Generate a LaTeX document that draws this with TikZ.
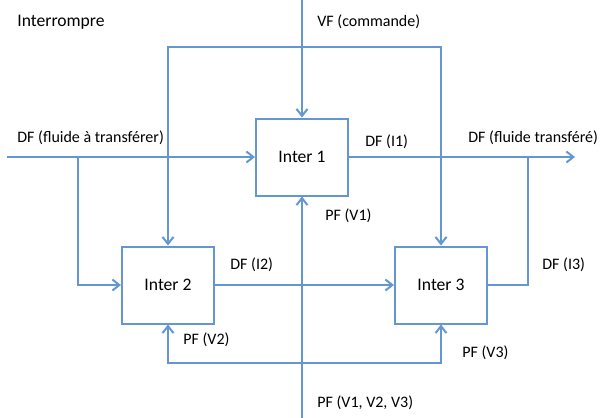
\documentclass[tikz,border=0pt]{standalone}
\usepackage{fontspec}
\setmainfont{Carlito}
\usepackage{tikz}
\usetikzlibrary{shapes,arrows,arrows.meta,positioning,calc}
\definecolor{flowblue}{RGB}{100,150,210}

\begin{document}
\begin{tikzpicture}[x=0.5pt, y=-0.5pt, node distance=64pt,
        block/.style={rectangle, draw=flowblue, line width=1pt, fill=white, minimum width=46pt, minimum height=38.5pt, font=\fontsize{8.8}{10}\selectfont},
        lbl/.style={anchor=west, inner sep=0pt, font=\fontsize{8}{10}\selectfont},
        arrow/.style={-{Straight Barb[length=3.5pt, width=5.5pt]}, line width=1pt, flowblue},
        link/.style={line width=1pt, flowblue}
    ]
        \useasboundingbox (0,0) rectangle (601,418);

        \node[block] (inter1) at (302,157) {Inter 1};
        \node[block, below of=inter1, xshift=-67pt] (inter2) {Inter 2};
        \node[block, below of=inter1, xshift=69.5pt] (inter3) {Inter 3};

        \coordinate (dfin) at (7,157);
        \coordinate (dfout) at (575,157);
        \coordinate (vftop) at (302,0);
        \coordinate (pfbot) at (302,418);
        \coordinate (vfbar) at (302,47);
        \coordinate (pfbar) at (302,363);
        \coordinate (splitl) at (78,157);
        \coordinate (joinr) at (528,157);

        \draw[arrow] (dfin) -- (inter1);
        \draw[arrow] (inter1) -- (dfout);
        \draw[arrow] (vftop) -- (inter1);
        \draw[arrow] (pfbot) -- (inter1);
        \draw[arrow] (vfbar) -| (inter2);
        \draw[arrow] (vfbar) -| (inter3);
        \draw[arrow] (pfbar) -| (inter2);
        \draw[arrow] (pfbar) -| (inter3);
        \draw[arrow] (splitl) |- (inter2);
        \draw[arrow] (inter2) -- (inter3);
        \draw[link] (inter3) -| (joinr);

        \node[lbl, font=\fontsize{8.8}{10}\selectfont] (title) at (17,22) {Interrompre};
        \node[lbl] (vflbl) at (317,22) {VF (commande)};
        \node[lbl] (inlbl) at (17,138) {DF (fluide à transférer)};
        \node[lbl] (i1lbl) at (365,142) {DF (I1)};
        \node[lbl] (outlbl) at (468,138) {DF (fluide transféré)};
        \node[lbl] (v1lbl) at (325,216) {PF (V1)};
        \node[lbl] (i2lbl) at (230,265) {DF (I2)};
        \node[lbl] (v2lbl) at (183,340) {PF (V2)};
        \node[lbl] (i3lbl) at (542,265) {DF (I3)};
        \node[lbl] (v3lbl) at (462,353) {PF (V3)};
        \node[lbl] (pflbl) at (317,403) {PF (V1, V2, V3)};
    \end{tikzpicture}
\end{document}
